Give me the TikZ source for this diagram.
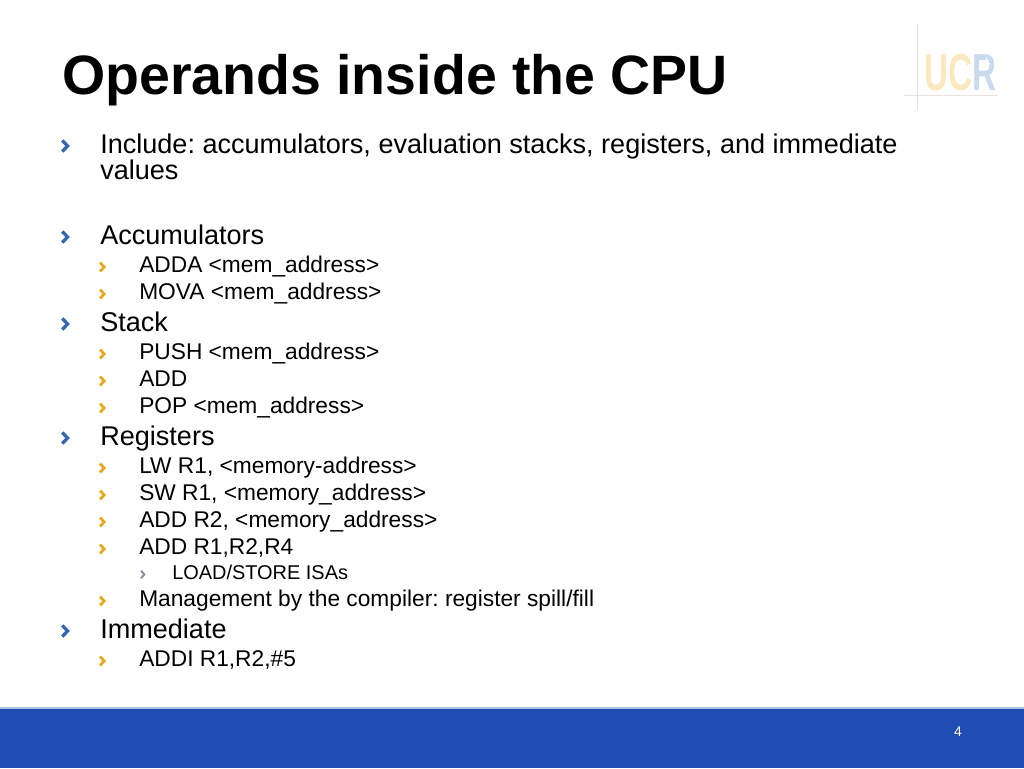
\documentclass[tikz,border=0pt]{standalone}
\usepackage{fontspec}
\setmainfont{Liberation Sans}
\frenchspacing
\definecolor{barblue}{HTML}{1F4DB1}
\definecolor{barline}{HTML}{A9BFE3}
\definecolor{markblue}{HTML}{3566B0}
\definecolor{markgold}{HTML}{E8A820}
\definecolor{markgrey}{HTML}{8A8F98}
\definecolor{logogold}{HTML}{FAE9BE}
\definecolor{logoblue}{HTML}{C9D9EE}
\definecolor{logoline}{HTML}{E9E2E2}
\tikzset{
    titletext/.style={anchor=base west,inner sep=0pt,font=\fontsize{41.6}{46}\selectfont\bfseries},
    lvlone/.style={anchor=base west,inner sep=0pt,font=\fontsize{20.3}{24}\selectfont},
    lvltwo/.style={anchor=base west,inner sep=0pt,font=\fontsize{17.05}{20}\selectfont},
    lvlthree/.style={anchor=base west,inner sep=0pt,font=\fontsize{14.95}{18}\selectfont},
    logoletter/.style={anchor=base,inner sep=0pt,xscale=0.64,font=\fontsize{39}{39}\selectfont\bfseries},
    chevone/.pic={\draw[markblue,line width=2.5pt,line join=miter] (-3.2,-5.6) -- (2,0) -- (-3.2,5.6);},
    chevtwo/.pic={\draw[markgold,line width=2.1pt,line join=miter] (-2.4,-4.4) -- (1.6,0) -- (-2.4,4.4);},
    chevthree/.pic={\draw[markgrey,line width=1.5pt,line join=miter] (-1.9,-3.8) -- (1.3,0) -- (-1.9,3.8);},
}
\begin{document}
\begin{tikzpicture}[x=0.75pt,y=-0.75pt]
    \useasboundingbox (0,0) rectangle (1024,768);

    % Footer bar
    \fill[barblue] (0,708) rectangle (1024,768);
    \fill[barline] (0,707) rectangle (1024,708.5);
    \node (pagenum) at (958,736) [anchor=base,inner sep=0pt,text=white,font=\fontsize{10.5}{12}\selectfont] {4};

    % Logo
    \draw[logoline,line width=0.6pt] (917,24) -- (917,110);
    \draw[logoline,line width=0.6pt] (904,95) -- (998,95);
    \node (logou) at (937,90) [logoletter,text=logogold] {U};
    \node (logoc) at (961,90) [logoletter,text=logogold] {C};
    \node (logor) at (985,90) [logoletter,text=logoblue] {R};
    \foreach \ang in {-60,-30,0,30,60}
        \draw[white,line width=0.7pt] (984,63) -- ++(\ang:6);

    % Title
    \node (title) at (62,94) [titletext] {Operands inside the CPU};

    % First level
    \foreach \y/\txt in {153/{Include: accumulators, evaluation stacks, registers, and immediate},
                         244/Accumulators, 331/Stack, 445/Registers, 638/Immediate} {
        \node (one\y) at (100,\y) [lvlone] {\txt};
        \pic at (65.5,\y-7) {chevone};
    }
    \node (onemore) at (100,179) [lvlone] {values};

    % Second level
    \foreach \y/\txt in {272.5/{ADDA <mem\_address>}, 299.5/{MOVA <mem\_address>},
                         359.5/{PUSH <mem\_address>}, 386.5/ADD, 413.5/{POP <mem\_address>},
                         473.5/{LW R1, <memory-address>}, 500.5/{SW R1, <memory\_address>},
                         527.5/{ADD R2, <memory\_address>}, 554.5/{ADD R1,R2,R4},
                         606.5/{Management by the compiler: register spill/fill},
                         666.5/{ADDI R1,R2,\#5}} {
        \node (two\y) at (139,\y) [lvltwo] {\txt};
        \pic at (102.5,\y-5.5) {chevtwo};
    }

    % Third level
    \node (three) at (172,579.5) [lvlthree] {LOAD/STORE ISAs};
    \pic at (143,574.5) {chevthree};
\end{tikzpicture}
\end{document}
